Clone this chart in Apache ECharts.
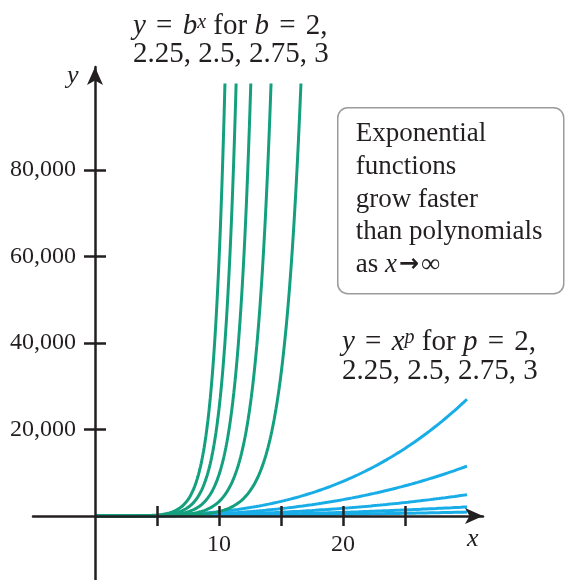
<!DOCTYPE html>
<html>
<head>
<meta charset="utf-8">
<title>Exponential vs polynomial growth</title>
<script src="https://cdn.jsdelivr.net/npm/echarts@6/dist/echarts.min.js"></script>
<style>
  html, body { margin: 0; padding: 0; background: #fff; }
  #chart { width: 565px; height: 580px; }
</style>
</head>
<body>
<div id="chart"></div>
<script>
// Curve families: y = b^x and y = x^p
const bases = [2, 2.25, 2.5, 2.75, 3];
const powers = [2, 2.25, 2.5, 2.75, 3];
const yCeiling = 100000;   // exponentials are drawn up to this height
const xEnd = 30;           // polynomials are drawn out to this x
const xTicks = [5, 10, 15, 20, 25];
const xTickLabels = [10, 20];
const yTicks = [20000, 40000, 60000, 80000];

const INK = '#231f20';
const GREEN = '#14a07f';
const BLUE = '#18ade6';
const SERIF = '"Liberation Serif", "DejaVu Serif", serif';

function expPoints(b) {
  const xStop = Math.log(yCeiling) / Math.log(b);
  const pts = [];
  for (let x = 0; x < xStop; x += 0.05) pts.push([x, Math.pow(b, x)]);
  pts.push([xStop, yCeiling]);
  return pts;
}
function powPoints(p) {
  const pts = [];
  for (let x = 0; x <= xEnd + 1e-9; x += 0.25) pts.push([x, Math.pow(x, p)]);
  return pts;
}

// Axis ranges: both axes run a little past zero on the negative side
const X_MIN = -5, X_MAX = 31.29;
const Y_MIN = -14798, Y_MAX = 103815;

// Labels of an on-zero axis sit at the grid edge, so pull them back to the axis line
const X_LABEL_MARGIN = -47;
const Y_LABEL_MARGIN = -43;

function xAxisDef(pos, main) {
  return {
    type: 'value', position: pos, min: X_MIN, max: X_MAX, z: 5,
    axisLine: main ? {
      show: true, onZero: true,
      lineStyle: { color: INK, width: 2.5 },
      symbol: ['none', 'arrow'], symbolSize: [12, 18]
    } : { show: false, onZero: true },
    axisTick: { show: true, customValues: xTicks, length: 10, lineStyle: { color: INK, width: 2.5 } },
    axisLabel: main ? {
      show: true, customValues: xTickLabels, margin: X_LABEL_MARGIN,
      fontFamily: SERIF, fontSize: 24, color: INK
    } : { show: false },
    splitLine: { show: false }
  };
}
function yAxisDef(pos, main) {
  return {
    type: 'value', position: pos, min: Y_MIN, max: Y_MAX, z: 5,
    axisLine: main ? {
      show: true, onZero: true,
      lineStyle: { color: INK, width: 2.5 },
      symbol: ['none', 'arrow'], symbolSize: [12, 18]
    } : { show: false, onZero: true },
    axisTick: { show: true, customValues: yTicks, length: 11, lineStyle: { color: INK, width: 2.5 } },
    axisLabel: main ? {
      show: true, customValues: yTicks, margin: Y_LABEL_MARGIN,
      fontFamily: SERIF, fontSize: 24, color: INK,
      formatter: v => v.toLocaleString('en-US')
    } : { show: false },
    splitLine: { show: false }
  };
}

const series = [];
powers.forEach(p => series.push({
  name: 'x^' + p, type: 'line', data: powPoints(p), showSymbol: false,
  lineStyle: { color: BLUE, width: 3 }, z: 2, silent: true
}));
bases.forEach(b => series.push({
  name: b + '^x', type: 'line', data: expPoints(b), showSymbol: false,
  lineStyle: { color: GREEN, width: 3 }, z: 3, silent: true
}));

const richMath = {
  i: { fontStyle: 'italic', fontFamily: SERIF, fontSize: 29, color: INK },
  eq: { fontFamily: SERIF, fontSize: 29, color: INK, padding: [0, 3, 0, 3] },
  sup: { fontStyle: 'italic', fontFamily: SERIF, fontSize: 20, color: INK, verticalAlign: 'top', lineHeight: 14 }
};

const option = {
  animation: false,
  backgroundColor: '#fff',
  grid: { left: 33, top: 67, width: 450, height: 513, containLabel: false, outerBoundsMode: 'none' },
  xAxis: [xAxisDef('bottom', true), xAxisDef('top', false)],
  yAxis: [yAxisDef('left', true), yAxisDef('right', false)],
  series: series,
  graphic: [
    { type: 'text', left: 67, top: 63, z: 10,
      style: { text: 'y', font: 'italic 26px ' + SERIF, fill: INK } },
    { type: 'text', left: 467, top: 526, z: 10,
      style: { text: 'x', font: 'italic 26px ' + SERIF, fill: INK } },
    { type: 'text', left: 133, top: 12, z: 10,
      style: {
        text: '{i|y}{eq| = }{i|b}{sup|x} for {i|b}{eq| = }2,\n2.25, 2.5, 2.75, 3',
        font: '29px ' + SERIF, fill: INK, lineHeight: 28, rich: richMath
      } },
    { type: 'text', left: 342, top: 328, z: 10,
      style: {
        text: '{i|y}{eq| = }{i|x}{sup|p} for {i|p}{eq| = }2,\n2.25, 2.5, 2.75, 3',
        font: '29px ' + SERIF, fill: INK, lineHeight: 29, rich: richMath
      } },
    { type: 'group', left: 337, top: 107, z: 10, children: [
      { type: 'rect', shape: { x: 0, y: 0, width: 226, height: 186, r: 10 },
        style: { fill: '#fff', stroke: '#9b9b9b', lineWidth: 1.5 } },
      { type: 'text', x: 18, y: 10,
        style: {
          text: 'Exponential\nfunctions\ngrow faster\nthan polynomials\nas {ix|x}{arr|\u2192}\u221e',
          font: '27px ' + SERIF, fill: INK, lineHeight: 32.7,
          rich: {
            ix: { fontStyle: 'italic', fontFamily: SERIF, fontSize: 27, color: INK, padding: [0, 2, 0, 0] },
            arr: { fontFamily: '"DejaVu Sans", sans-serif', fontWeight: 'bold', fontSize: 24, color: INK, padding: [0, 2, 0, 0] }
          }
        } }
    ] }
  ]
};

const chart = echarts.init(document.getElementById('chart'), null, { renderer: 'canvas' });
chart.setOption(option);
</script>
</body>
</html>
